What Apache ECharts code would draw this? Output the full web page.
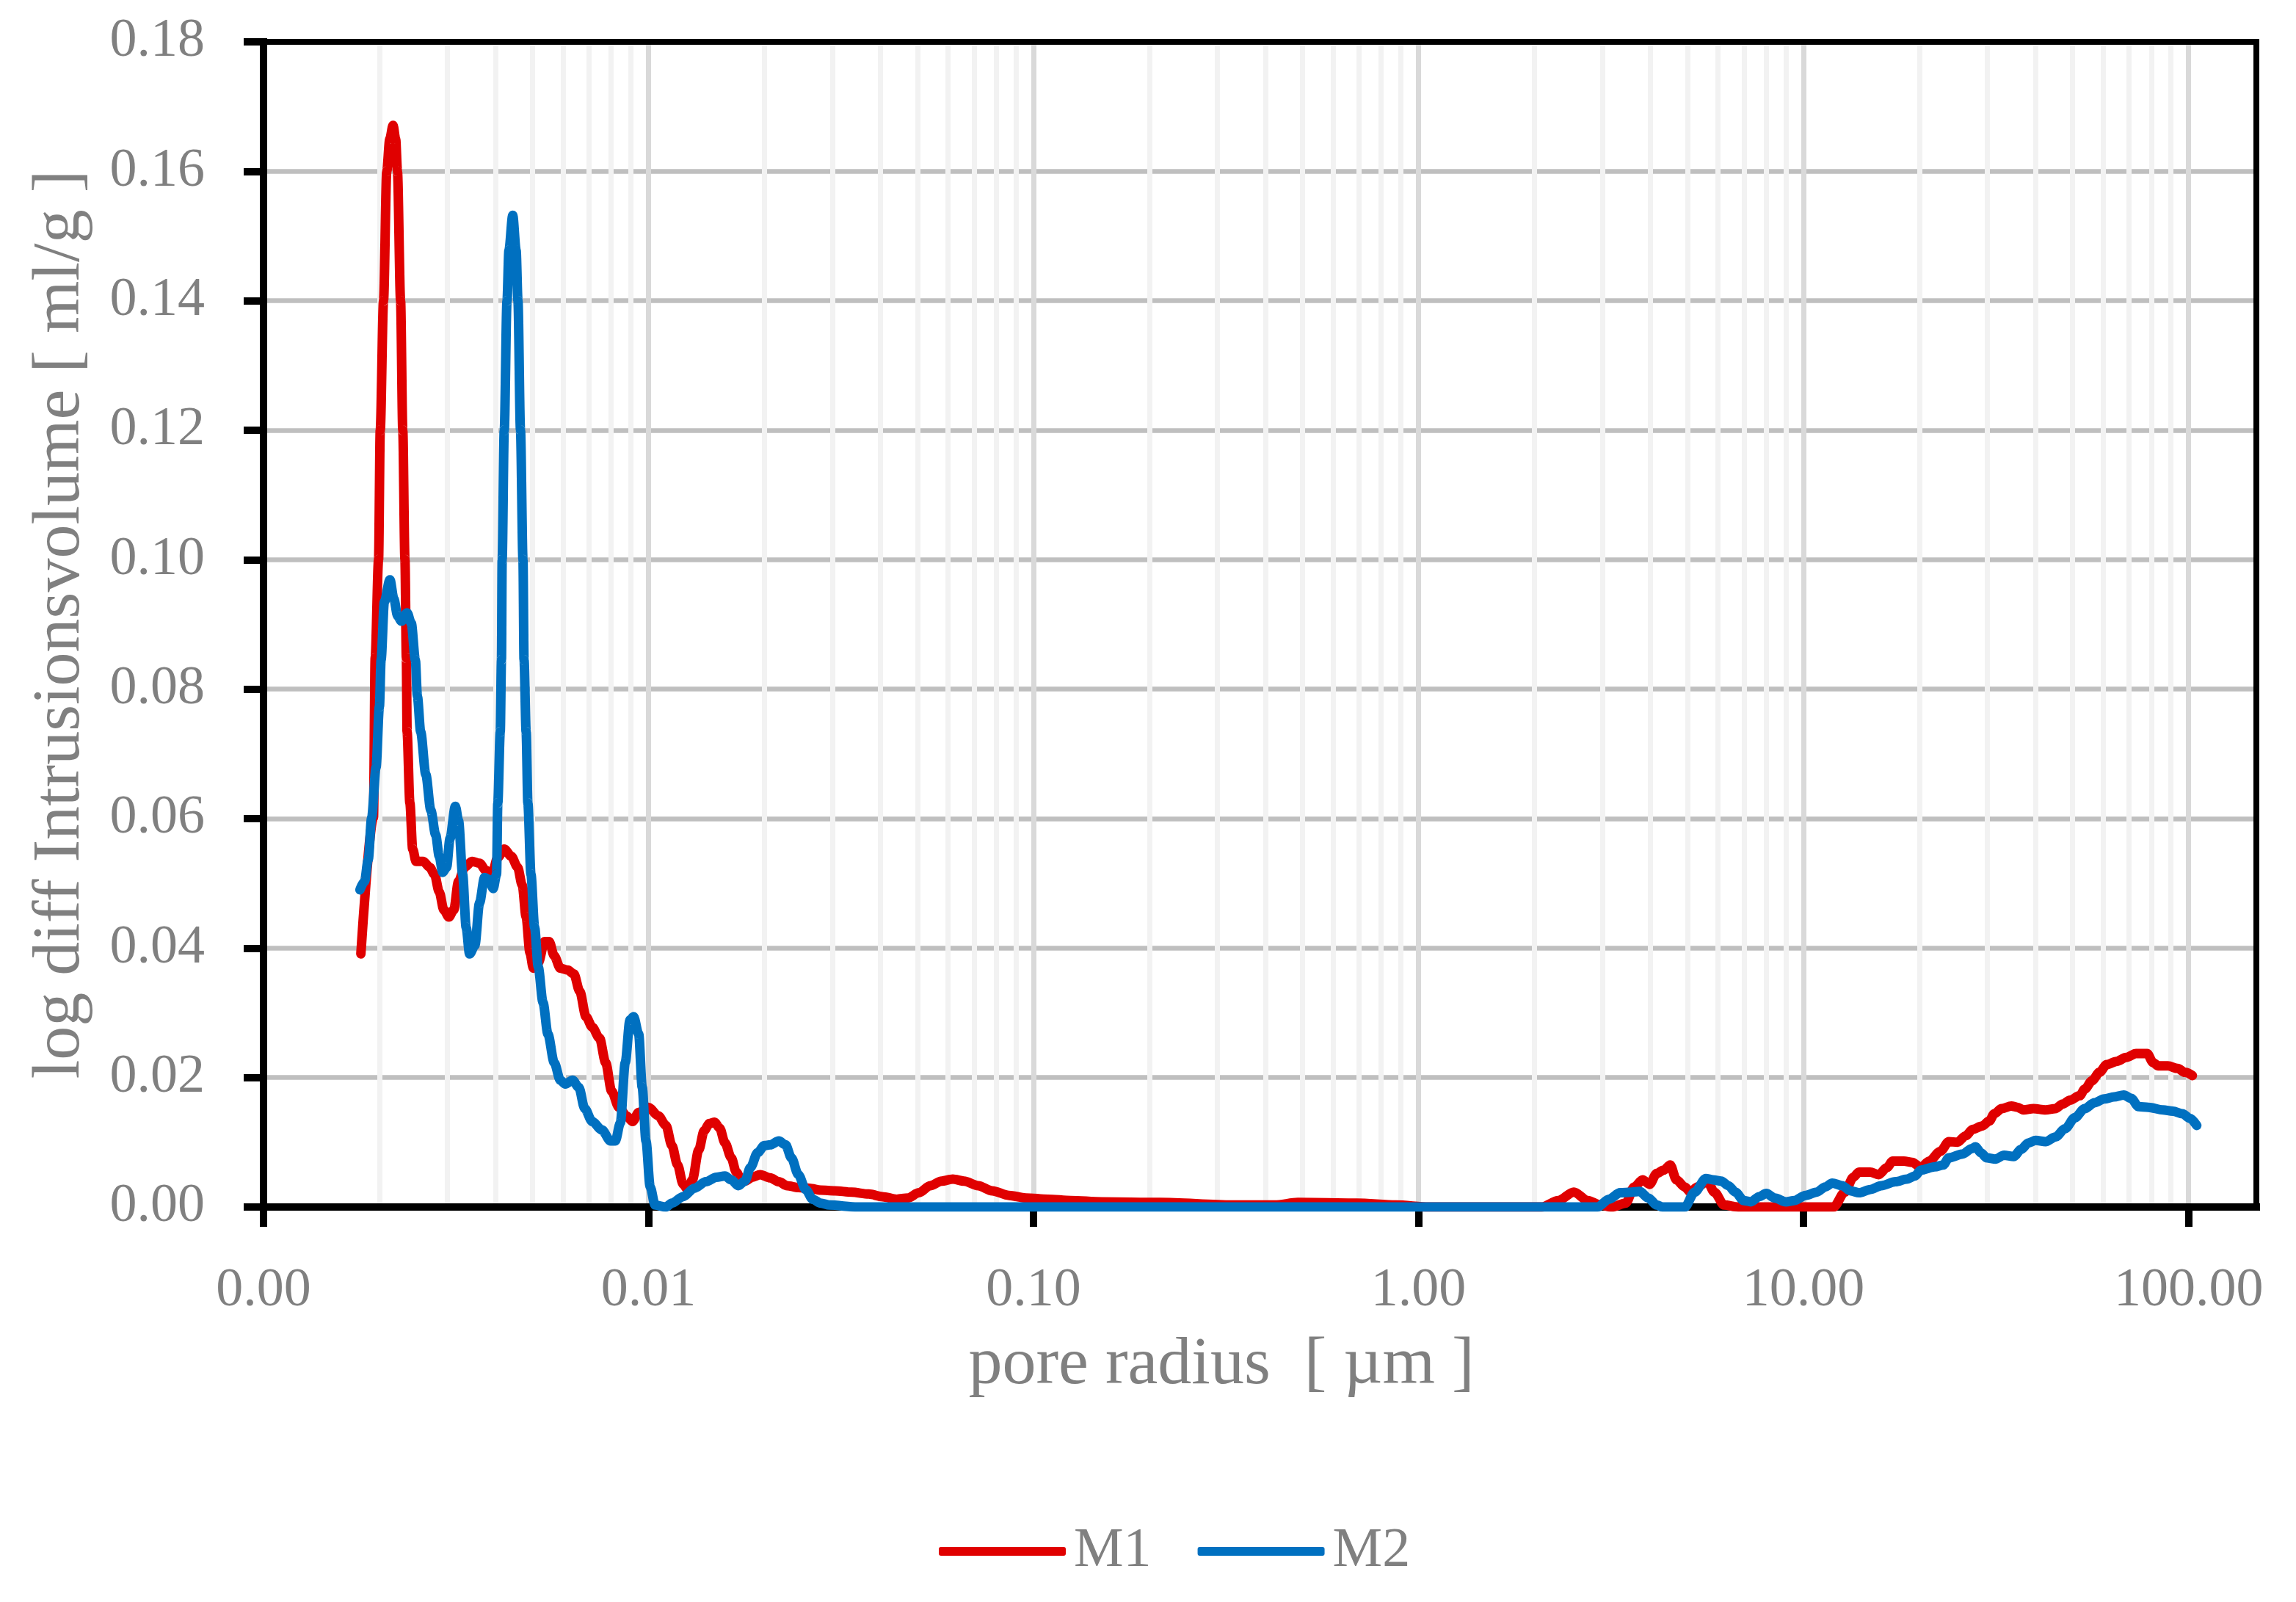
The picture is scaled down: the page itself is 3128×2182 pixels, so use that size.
<!DOCTYPE html>
<html>
<head>
<meta charset="utf-8">
<script src="https://cdn.jsdelivr.net/npm/echarts@6/dist/echarts.min.js"></script>
<style>
html,body{margin:0;padding:0;background:#ffffff;}
#chart{width:3128px;height:2182px;}
</style>
</head>
<body>
<div id="chart"></div>
<script>
// ---- data (pore radius in µm, log diff intrusion volume in ml/g) ----
const m1Radius = [0.00179, 0.00193, 0.00195, 0.00199, 0.00201, 0.00205, 0.00209, 0.002128, 0.00217, 0.002204, 0.002228, 0.00227, 0.0023, 0.00233,
  0.00235, 0.00236, 0.0024, 0.00244, 0.00249, 0.0026, 0.0027, 0.00278, 0.00286, 0.00294,
  0.00303, 0.00312, 0.00321, 0.00333, 0.00348, 0.00364, 0.00378, 0.00392, 0.00406, 0.00422,
  0.0044, 0.00457, 0.0047, 0.00481, 0.00492, 0.00502, 0.00517, 0.00537, 0.00552, 0.00569,
  0.0059, 0.00617, 0.0064, 0.00663, 0.00688, 0.00714, 0.00746, 0.00774, 0.00802, 0.00838,
  0.00876, 0.00909, 0.00943, 0.00999, 0.0106, 0.0111, 0.0115, 0.0119, 0.0123, 0.01265,
  0.013, 0.0135, 0.01395, 0.0144, 0.01485, 0.0153, 0.0158, 0.0164, 0.0169, 0.0174,
  0.0178, 0.0186, 0.0195, 0.0207, 0.0218, 0.0229, 0.0245, 0.0262, 0.028, 0.0305,
  0.0337, 0.0373, 0.0405, 0.0441, 0.0472, 0.0504, 0.0539, 0.0577, 0.0617, 0.066,
  0.0718, 0.0781, 0.0863, 0.0955, 0.109, 0.125, 0.15, 0.213, 0.328, 0.423,
  0.486, 0.691, 0.874, 1.063, 2.086, 2.307, 2.531, 2.753, 2.969, 3.176,
  3.452, 3.633, 3.82, 3.983, 4.155, 4.334, 4.505, 4.674, 4.916, 5.082,
  5.301, 5.622, 5.865, 6.219, 6.761, 11.97, 12.8, 13.47, 13.93, 14.9,
  15.66, 16.47, 17.04, 18.22, 19.17, 20.16, 21.2, 22.67, 23.84, 25.08,
  26.38, 27.5, 29.08, 30.38, 31.29, 32.69, 34.65, 35.93, 37.28, 39.53,
  42.52, 45.07, 47.1, 49.21, 52.17, 53.73, 56.14, 58.66, 61.3, 64.98,
  68.9, 73.06, 78.04, 80.93, 83.35, 88.37, 93.71, 97.92, 102.3];
const m1Volume = [0.0391, 0.0602, 0.0848, 0.100, 0.120, 0.140, 0.160, 0.165, 0.1671, 0.165, 0.160, 0.140, 0.120, 0.100,
  0.0848, 0.0734, 0.0624, 0.0553, 0.0534, 0.0534, 0.0525, 0.0514, 0.0487, 0.0459,
  0.0448, 0.0459, 0.0503, 0.0525, 0.0534, 0.0531, 0.052, 0.0514, 0.054, 0.0553,
  0.0542, 0.0525, 0.0497, 0.0448, 0.0393, 0.0369, 0.0377, 0.041, 0.041, 0.0388,
  0.0369, 0.0366, 0.036, 0.0333, 0.0294, 0.0278, 0.0261, 0.0223, 0.0179, 0.0154,
  0.0141, 0.0132, 0.0146, 0.0154, 0.0141, 0.0126, 0.0095, 0.0065, 0.0035, 0.0027,
  0.0042, 0.0088, 0.0118, 0.0129, 0.0131, 0.0122, 0.0099, 0.0076, 0.0054, 0.0042,
  0.004, 0.0046, 0.005, 0.0045, 0.0039, 0.0033, 0.003, 0.0029, 0.0026, 0.0025,
  0.0023, 0.002, 0.0016, 0.0012, 0.0014, 0.0022, 0.0033, 0.004, 0.0043, 0.004,
  0.0033, 0.0025, 0.0018, 0.0014, 0.0012, 0.001, 0.0008, 0.0007, 0.0003, 0.0003,
  0.0007, 0.0006, 0.0003, 0, 0, 0.001, 0.0023, 0.001, 0.0003, 0,
  0.0006, 0.0031, 0.0042, 0.0035, 0.0052, 0.0057, 0.0065, 0.0042, 0.0031, 0.0023,
  0.0031, 0.004, 0.0023, 0.0003, 0, 0, 0.0023, 0.0046, 0.0054, 0.0054,
  0.005, 0.0061, 0.0071, 0.0071, 0.0069, 0.0061, 0.0071, 0.0086, 0.0101, 0.0100,
  0.011, 0.012, 0.0125, 0.0133, 0.0144, 0.0152, 0.0156, 0.0154, 0.015, 0.0152,
  0.015, 0.0152, 0.0159, 0.0165, 0.0172, 0.0182, 0.0195, 0.0208, 0.022, 0.0225,
  0.0231, 0.0237, 0.0237, 0.0223, 0.0218, 0.0218, 0.0214, 0.0208, 0.0203];

const m2Radius = [0.00178, 0.00183, 0.00187, 0.00191, 0.00196, 0.002, 0.00202, 0.00206, 0.00213, 0.00218,
  0.00223, 0.00228, 0.00236, 0.00242, 0.00248, 0.00251, 0.00256, 0.00264, 0.00272, 0.0028,
  0.00286, 0.00292, 0.00299, 0.00305, 0.00315, 0.00321, 0.00329, 0.00336, 0.00343, 0.00354,
  0.00364, 0.00375, 0.00386, 0.00395, 0.00403, 0.00406, 0.00412, 0.00415, 0.004167, 0.00422,
  0.00429, 0.00434, 0.00444, 0.00453, 0.00458, 0.00465, 0.00472, 0.00475, 0.00481, 0.00486,
  0.00495, 0.00506, 0.00517, 0.00532, 0.00548, 0.00569, 0.0059, 0.00608, 0.00635, 0.00659,
  0.00683, 0.00714, 0.00757, 0.00797, 0.0082, 0.00845, 0.0087, 0.00895, 0.00915, 0.00943,
  0.00963, 0.00985, 0.0101, 0.0104, 0.0111, 0.0115, 0.0123, 0.01315, 0.0141, 0.015,
  0.0158, 0.0164, 0.0171, 0.0178, 0.0184, 0.0192, 0.02, 0.0207, 0.0218, 0.0227,
  0.0235, 0.0245, 0.0256, 0.0267, 0.028, 0.0295, 0.0349, 0.2, 1.0, 2.919,
  3.122, 3.339, 3.572, 3.754, 3.951, 4.155, 4.298, 4.916, 5.213, 5.575,
  5.814, 6.114, 6.377, 6.652, 6.993, 7.295, 7.672, 8.002, 8.412, 8.999,
  9.462, 10.12, 10.82, 11.39, 11.87, 12.59, 13.24, 13.93, 14.9, 15.93,
  17.33, 18.53, 19.49, 20.16, 21.92, 23.06, 23.84, 25.93, 27.28, 27.98,
  28.84, 29.93, 31.5, 33.16, 35.16, 36.73, 38.37, 40.1, 42.52, 45.07,
  47.78, 50.66, 53.73, 56.96, 60.4, 64.03, 67.88, 70.93, 74.13, 78.63,
  85.83, 91.0, 96.47, 100.8, 105.0];
const m2Volume = [0.049, 0.0503, 0.0536, 0.0602, 0.0679, 0.0773, 0.0845, 0.0935, 0.0969, 0.094,
  0.0913, 0.0905, 0.0918, 0.0902, 0.0845, 0.0789, 0.0734, 0.0668, 0.0613, 0.0575,
  0.0542, 0.0517, 0.0525, 0.0569, 0.0619, 0.0597, 0.0514, 0.0432, 0.0391, 0.0404,
  0.047, 0.0509, 0.0506, 0.0492, 0.0514, 0.0624, 0.0734, 0.0845, 0.10, 0.12,
  0.14, 0.1478, 0.1532, 0.1478, 0.14, 0.12, 0.10, 0.0845, 0.0734, 0.0624,
  0.0514, 0.0432, 0.0371, 0.0316, 0.0267, 0.0223, 0.0196, 0.019, 0.0196, 0.0185,
  0.0152, 0.0132, 0.0119, 0.0102, 0.0102, 0.013, 0.0223, 0.0289, 0.0294, 0.0267,
  0.0185, 0.0102, 0.0031, 0.0003, 0, 0.0006, 0.0016, 0.0029, 0.0039, 0.0046,
  0.0048, 0.0042, 0.0033, 0.004, 0.0061, 0.0084, 0.0095, 0.0096, 0.0102, 0.0096,
  0.0076, 0.005, 0.0027, 0.0012, 0.0006, 0.0003, 0, 0, 0, 0,
  0.0012, 0.0022, 0.0023, 0.0024, 0.0014, 0.0003, 0, 0, 0.0023, 0.0044,
  0.0042, 0.004, 0.0033, 0.0023, 0.001, 0.0008, 0.0016, 0.0021, 0.0014, 0.0008,
  0.001, 0.0018, 0.0023, 0.0031, 0.0037, 0.0033, 0.0025, 0.0022, 0.0027, 0.0033,
  0.0039, 0.0043, 0.0048, 0.0057, 0.0062, 0.0065, 0.0076, 0.0082, 0.009, 0.0093,
  0.0084, 0.0076, 0.0074, 0.008, 0.0078, 0.0089, 0.0099, 0.0103, 0.0101, 0.0108,
  0.0121, 0.0138, 0.0152, 0.0161, 0.0167, 0.017, 0.0173, 0.0168, 0.0155, 0.0154,
  0.015, 0.0148, 0.0144, 0.0137, 0.0126];

// axis ranges and ticks
const xMin = 0.001, xMax = 150, xLastTick = 100;
const yMin = 0, yMax = 0.18, yStep = 0.02;
const minorGridValues = [0.002, 0.003, 0.004, 0.005, 0.006, 0.007, 0.008, 0.009,
  0.02, 0.03, 0.04, 0.05, 0.06, 0.07, 0.08, 0.09,
  0.2, 0.3, 0.4, 0.5, 0.6, 0.7, 0.8, 0.9,
  2, 3, 4, 5, 6, 7, 8, 9,
  20, 30, 40, 50, 60, 70, 80, 90];
const seriesNames = ['M1', 'M2'];
const xTitle = 'pore radius  [ µm ]';
const yTitle = 'log diff Intrusionsvolume [ ml/g ]';

// ---- layout / style ----
const W = 3128, H = 2182;
const PL = 359, PR = 54, PT = 57, PB = 538;
const plotW = W - PL - PR;
const lastTickPx = PL + plotW * Math.log10(xLastTick / xMin) / Math.log10(xMax / xMin);
const grid1Right = W - lastTickPx;
const FONT = 'Liberation Serif';
const GRAY = '#808080';
const RED = '#E00000';
const BLUE = '#0070C0';
const LINE_W = 13;

const chart = echarts.init(document.getElementById('chart'), null, {renderer: 'canvas', width: W, height: H});

const hidden = {axisLine: {show: false, onZero: false}, axisTick: {show: false}, axisLabel: {show: false}, splitLine: {show: false}};

const option = {
  animation: false,
  backgroundColor: '#ffffff',
  grid: [
    {left: PL, right: PR, top: PT, bottom: PB},
    {left: PL, right: grid1Right, top: PT, bottom: PB}
  ],
  legend: {
    data: seriesNames,
    left: 1274, top: 2070,
    itemWidth: 173, itemHeight: 12, itemGap: 63,
    icon: 'roundRect',
    textStyle: {color: GRAY, fontFamily: FONT, fontSize: 76, padding: [0, 0, 0, 6]}
  },
  xAxis: [
    Object.assign({}, hidden, {
      gridIndex: 0, type: 'log', min: xMin, max: xMax, position: 'bottom', z: 0.5,
      splitLine: {show: true, showMinLine: false, showMaxLine: false, lineStyle: {color: '#d9d9d9', width: 7}}
    }),
    Object.assign({}, hidden, {
      gridIndex: 1, type: 'log', min: xMin, max: xLastTick, position: 'bottom', z: 1.5,
      axisTick: {show: true, inside: false, length: 27, lineStyle: {color: '#000', width: 10}},
      axisLabel: {show: true, margin: 78, color: GRAY, fontFamily: FONT, fontSize: 74,
        formatter: v => Number(v).toFixed(2)}
    }),
    Object.assign({}, hidden, {
      gridIndex: 0, type: 'log', min: xMin, max: xMax, position: 'bottom', z: 1.5,
      axisLine: {show: true, onZero: false, lineStyle: {color: '#000', width: 10, cap: 'square'}},
      name: xTitle, nameLocation: 'middle', nameGap: 170,
      nameTextStyle: {color: GRAY, fontFamily: FONT, fontSize: 92, padding: [0, 105, 0, 0]}
    }),
    Object.assign({}, hidden, {
      gridIndex: 0, type: 'log', min: xMin, max: xMax, position: 'top', z: 1.5,
      axisLine: {show: true, onZero: false, lineStyle: {color: '#000', width: 8, cap: 'square'}}
    })
  ],
  yAxis: [
    Object.assign({}, hidden, {
      gridIndex: 0, type: 'value', min: yMin, max: yMax, interval: yStep, position: 'left', z: 0,
      splitLine: {show: true, showMinLine: false, showMaxLine: false, lineStyle: {color: '#bfbfbf', width: 6.5}}
    }),
    Object.assign({}, hidden, {
      gridIndex: 0, type: 'value', min: yMin, max: yMax, interval: yStep, position: 'left', z: 1.5,
      axisLine: {show: true, onZero: false, lineStyle: {color: '#000', width: 10, cap: 'square'}},
      axisTick: {show: true, inside: false, length: 27, lineStyle: {color: '#000', width: 10}},
      axisLabel: {show: true, margin: 80, color: GRAY, fontFamily: FONT, fontSize: 74,
        formatter: v => Number(v).toFixed(2)},
      name: yTitle, nameLocation: 'middle', nameGap: 230, nameRotate: 90,
      nameTextStyle: {color: GRAY, fontFamily: FONT, fontSize: 92}
    }),
    Object.assign({}, hidden, {
      gridIndex: 0, type: 'value', min: yMin, max: yMax, interval: yStep, position: 'right', z: 1.5,
      axisLine: {show: true, onZero: false, lineStyle: {color: '#000', width: 8, cap: 'square'}}
    }),
    Object.assign({}, hidden, {
      gridIndex: 1, type: 'value', min: yMin, max: yMax, interval: yStep, show: false
    })
  ],
  series: [
    {
      type: 'lines', coordinateSystem: 'cartesian2d', xAxisIndex: 0, yAxisIndex: 0,
      z: 0.6, silent: true, polyline: false,
      lineStyle: {color: '#f2f2f2', width: 7, opacity: 1, curveness: 0},
      data: minorGridValues.map(v => ({coords: [[v, yMin], [v, yMax]]}))
    },
    {
      name: seriesNames[0], type: 'line', xAxisIndex: 0, yAxisIndex: 0, z: 3,
      data: m1Radius.map((r, i) => [r, m1Volume[i]]),
      showSymbol: false, symbol: 'none', smooth: 0.3, smoothMonotone: 'x',
      lineStyle: {color: RED, width: LINE_W, cap: 'round', join: 'round'},
      itemStyle: {color: RED}
    },
    {
      name: seriesNames[1], type: 'line', xAxisIndex: 0, yAxisIndex: 0, z: 3,
      data: m2Radius.map((r, i) => [r, m2Volume[i]]),
      showSymbol: false, symbol: 'none', smooth: 0.3, smoothMonotone: 'x',
      lineStyle: {color: BLUE, width: LINE_W, cap: 'round', join: 'round'},
      itemStyle: {color: BLUE}
    }
  ]
};
chart.setOption(option);
</script>
</body>
</html>
